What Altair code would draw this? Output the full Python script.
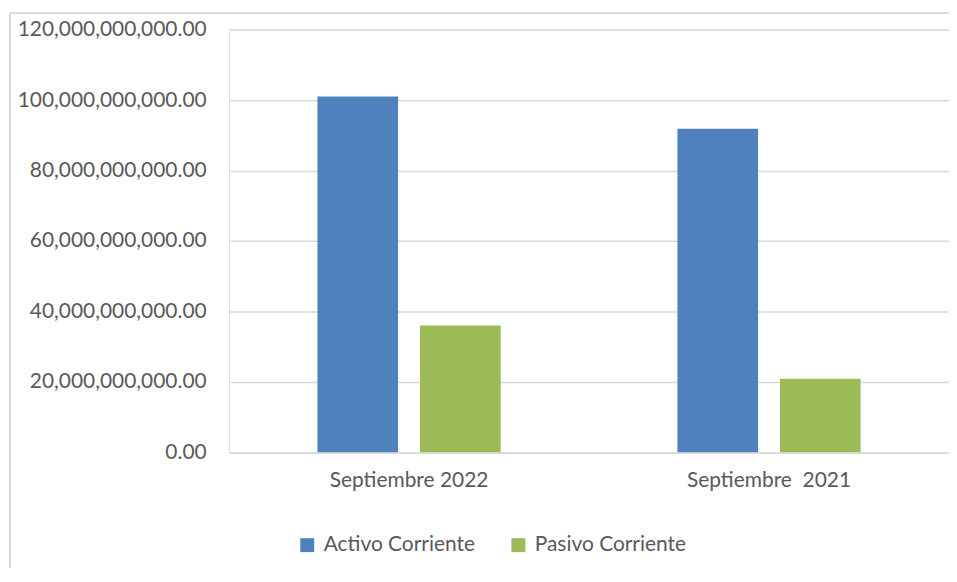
import altair as alt
import pandas as pd

categories = ["Septiembre 2022", "Septiembre \u00a02021"]
series = ["Activo Corriente", "Pasivo Corriente"]
activo = [101.0e9, 91.85e9]
pasivo = [36.0e9, 20.9e9]

rows = []
for i, c in enumerate(categories):
    rows.append({"periodo": c, "serie": series[0], "valor": activo[i]})
    rows.append({"periodo": c, "serie": series[1], "valor": pasivo[i]})
df = pd.DataFrame(rows)

FONT = "Lato"
TXT = "#595959"
GRID = "#d9d9d9"
FS = 21

bars = alt.Chart(df).mark_bar().encode(
    x=alt.X("periodo:N", sort=categories,
            scale=alt.Scale(paddingInner=0.491, paddingOuter=0.2455, round=False),
            axis=alt.Axis(title=None, labelAngle=0, domain=False, ticks=False,
                          labelPadding=17, labelFont=FONT, labelFontSize=FS,
                          labelColor=TXT, labelBaseline="top", labelLimit=400)),
    xOffset=alt.XOffset("serie:N", sort=series,
                        scale=alt.Scale(paddingInner=0.214, paddingOuter=0, round=False)),
    y=alt.Y("valor:Q", scale=alt.Scale(domain=[0, 120e9], nice=False),
            axis=alt.Axis(title=None, format=",.2f", values=[0, 20e9, 40e9, 60e9, 80e9, 100e9, 120e9],
                          domain=False, ticks=False, labelPadding=23, labelLimit=400,
                          labelFont=FONT, labelFontSize=FS, labelColor=TXT,
                          gridColor=GRID, gridWidth=1.5)),
    color=alt.Color("serie:N", sort=series,
                    scale=alt.Scale(domain=series, range=["#4F81BD", "#9BBB59"]),
                    legend=alt.Legend(title=None, orient="none", direction="horizontal",
                                      legendX=68, legendY=507, symbolType="square",
                                      symbolSize=196, symbolStrokeWidth=0, symbolOpacity=1,
                                      labelFont=FONT, labelFontSize=FS, labelColor=TXT,
                                      labelOffset=6, columnPadding=33, labelLimit=400)),
)

frame_left = alt.Chart(df).mark_rule(color=GRID, strokeWidth=1.5).encode(
    x=alt.value(-220), y=alt.value(-16.5), y2=alt.value(570))
frame_top = alt.Chart(df).mark_rule(color=GRID, strokeWidth=1.5).encode(
    x=alt.value(-220), x2=alt.value(740), y=alt.value(-16.5))

chart = alt.layer(frame_left, frame_top, bars).properties(
    width=723, height=424.5,
    autosize=alt.AutoSizeParams(type="none"),
    padding={"left": 222, "top": 20.5, "right": 0, "bottom": 115},
).configure_view(stroke=None).configure(background="white")

chart.save("out.html", embed_options={"renderer": "svg", "actions": False})
